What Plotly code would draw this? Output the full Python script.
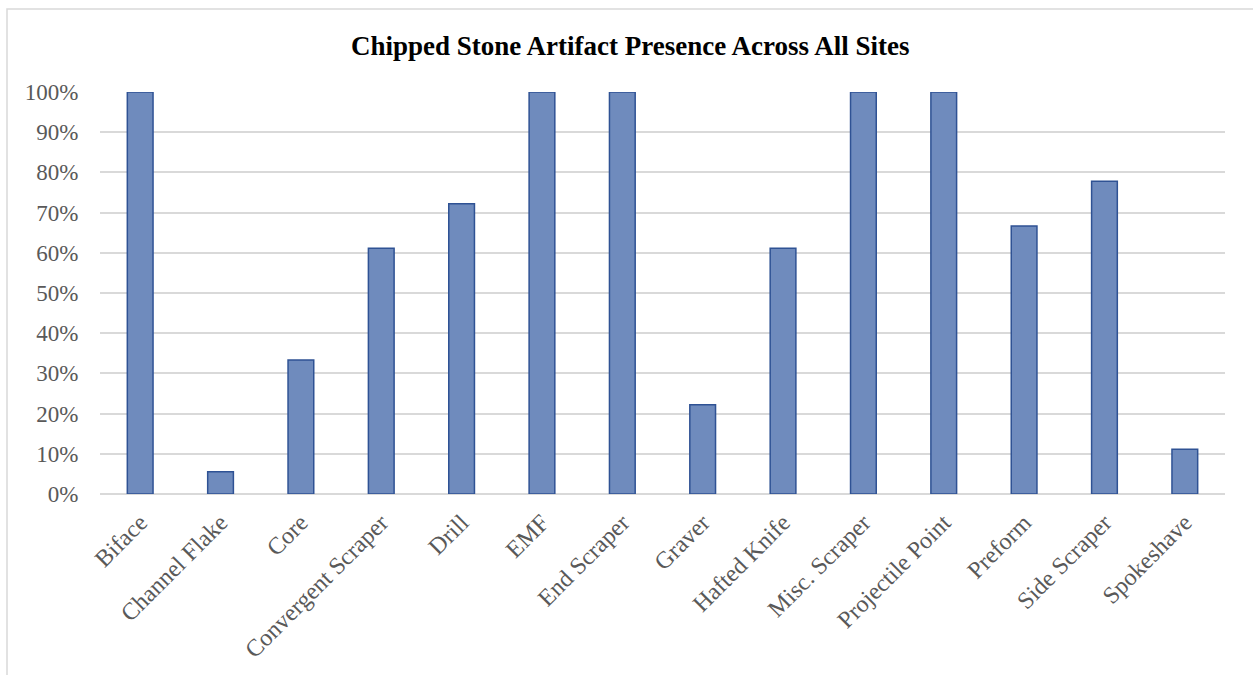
import plotly.graph_objects as go

# Artifact categories and share of sites where each was recovered
categories = [
    "Biface", "Channel Flake", "Core", "Convergent Scraper", "Drill", "EMF",
    "End Scraper", "Graver", "Hafted Knife", "Misc. Scraper", "Projectile Point",
    "Preform", "Side Scraper", "Spokeshave",
]
presence = [
    1.0, 0.0556, 0.3333, 0.6111, 0.7222, 1.0,
    1.0, 0.2222, 0.6111, 1.0, 1.0,
    0.6667, 0.7778, 0.1111,
]
y_ticks = [0, 0.1, 0.2, 0.3, 0.4, 0.5, 0.6, 0.7, 0.8, 0.9, 1.0]
y_tick_text = [f"{int(round(v * 100))}%" for v in y_ticks]

serif = "Liberation Serif, Times New Roman, serif"

fig = go.Figure(
    go.Bar(
        x=categories,
        y=presence,
        marker=dict(
            color="rgb(111,139,189)",
            line=dict(color="rgb(47,82,148)", width=1.5),
        ),
        hovertemplate="%{x}: %{y:.1%}<extra></extra>",
    )
)

fig.update_layout(
    width=1253,
    height=675,
    paper_bgcolor="white",
    plot_bgcolor="white",
    margin=dict(l=100, r=28, t=92, b=181),
    bargap=0.68,
    showlegend=False,
    title=dict(
        text="<b>Chipped Stone Artifact Presence Across All Sites</b>",
        x=0.503,
        xanchor="center",
        y=0.932,
        yanchor="middle",
        font=dict(family=serif, size=27, color="black"),
    ),
    font=dict(family=serif, color="#595959"),
    xaxis=dict(
        tickangle=-45,
        tickfont=dict(family=serif, size=24, color="#595959"),
        showgrid=False,
        showline=False,
        ticks="outside",
        ticklen=4,
        tickcolor="rgba(0,0,0,0)",
        automargin=False,
    ),
    yaxis=dict(
        range=[0, 1.0],
        tickvals=y_ticks,
        ticktext=y_tick_text,
        tickfont=dict(family=serif, size=23, color="#595959"),
        showgrid=True,
        gridcolor="#D9D9D9",
        gridwidth=1.5,
        zeroline=True,
        zerolinecolor="#D9D9D9",
        zerolinewidth=1.5,
        showline=False,
        ticks="outside",
        ticklen=16,
        tickcolor="rgba(0,0,0,0)",
        automargin=False,
    ),
    shapes=[
        dict(
            type="rect",
            xref="paper",
            yref="paper",
            x0=-93 / 1125,
            x1=1.05,
            y0=-0.5,
            y1=(675 - 9 - 181) / 402,
            line=dict(color="#D9D9D9", width=1.5),
            fillcolor="rgba(0,0,0,0)",
            layer="below",
        )
    ],
)

fig.write_html("out.html")
